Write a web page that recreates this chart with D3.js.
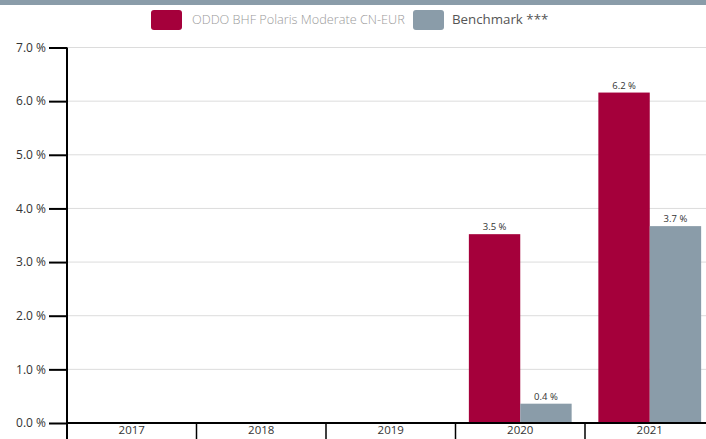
<!DOCTYPE html>
<html>
<head>
<meta charset="utf-8">
<script src="https://cdn.jsdelivr.net/npm/d3@7"></script>
<style>
  body { margin: 0; background: #fff; }
  svg { display: block; font-family: "Open Sans", sans-serif; }
</style>
</head>
<body>
<svg width="706" height="439"></svg>
<script>
const years = ['2017', '2018', '2019', '2020', '2021'];
const seriesNames = ['ODDO BHF Polaris Moderate CN-EUR', 'Benchmark ***'];
const fundValues = [null, null, null, 3.52, 6.16];
const benchValues = [null, null, null, 0.36, 3.67];
const yTicks = [0, 1, 2, 3, 4, 5, 6, 7];

const colors = ['#a5003b', '#8a9ca9'];

const svg = d3.select('svg');
const plotLeft = 67;
const plotTop = 47.5;
const plotBottom = 423;

const x = d3.scaleBand().domain(years).range([plotLeft, plotLeft + 5 * 129.5]).paddingInner(0).paddingOuter(0);
const sub = d3.scaleBand().domain([0, 1]).range([0, x.bandwidth()]).paddingOuter(0.26).paddingInner(0);
const y = d3.scaleLinear().domain([0, 7]).range([plotBottom, plotTop]);

// top strip
svg.append('rect').attr('x', 0).attr('y', 0).attr('width', 706).attr('height', 5).style('fill', '#8a9ca9');

// gridlines
svg.append('g')
  .selectAll('line')
  .data(yTicks)
  .enter()
  .append('line')
  .attr('x1', plotLeft)
  .attr('x2', 706)
  .attr('y1', d => y(d))
  .attr('y2', d => y(d))
  .style('stroke', '#dcdcdc')
  .style('stroke-width', '1px');

// bars
const rows = years.map((yr, i) => [fundValues[i], benchValues[i]]);
const groups = svg.append('g')
  .selectAll('g')
  .data(rows)
  .enter()
  .append('g')
  .attr('transform', (d, i) => `translate(${x(years[i])},0)`);

groups.selectAll('rect')
  .data(d => d.map((v, k) => ({ v, k })).filter(p => p.v !== null))
  .enter()
  .append('rect')
  .attr('x', p => sub(p.k))
  .attr('width', sub.bandwidth())
  .attr('y', p => y(p.v))
  .attr('height', p => y(0) - y(p.v))
  .style('fill', p => colors[p.k]);

groups.selectAll('text')
  .data(d => d.map((v, k) => ({ v, k })).filter(p => p.v !== null))
  .enter()
  .append('text')
  .attr('x', p => sub(p.k) + sub.bandwidth() / 2)
  .attr('y', p => y(p.v) - 4)
  .attr('text-anchor', 'middle')
  .style('font-size', '9.5px')
  .style('fill', '#333')
  .text(p => `${p.v.toFixed(1)} %`);

// y axis
const yAxis = svg.append('g')
  .attr('transform', `translate(${plotLeft},0)`)
  .call(d3.axisLeft(y).tickValues(yTicks).tickSize(18).tickPadding(3).tickFormat(d => `${d.toFixed(1)} %`));
yAxis.select('.domain').attr('d', `M0,${plotTop}V439`).style('stroke', '#000').style('stroke-width', '2px');
yAxis.selectAll('.tick line').style('stroke', '#000').style('stroke-width', '2px');
yAxis.selectAll('.tick text').style('font-size', '12px').style('fill', '#333').style('font-family', '"Open Sans", sans-serif');

// x axis
const xAxis = svg.append('g')
  .attr('transform', `translate(0,${plotBottom})`)
  .call(d3.axisBottom(x).tickSize(0).tickPadding(3));
xAxis.select('.domain').attr('d', `M${plotLeft},0H706`).style('stroke', '#000').style('stroke-width', '2px');
xAxis.selectAll('.tick text').style('font-size', '11.5px').style('fill', '#333').style('font-family', '"Open Sans", sans-serif');

svg.append('g')
  .selectAll('line')
  .data(years.slice(1))
  .enter()
  .append('line')
  .attr('x1', d => x(d))
  .attr('x2', d => x(d))
  .attr('y1', plotBottom)
  .attr('y2', 439)
  .style('stroke', '#000')
  .style('stroke-width', '1.5px');

// legend
const legendX = [151, 413];
const legendText = [192, 452];
const legend = svg.append('g');
seriesNames.forEach((name, i) => {
  legend.append('rect')
    .attr('x', legendX[i]).attr('y', 10).attr('width', 31).attr('height', 20)
    .attr('rx', 3)
    .style('fill', colors[i]);
  legend.append('text')
    .attr('x', legendText[i]).attr('y', 24)
    .style('font-size', i === 0 ? '12.7px' : '13.3px')
    .style('font-weight', i === 0 ? 300 : 400)
    .style('fill', i === 0 ? '#9a9a9a' : '#555')
    .text(name);
});
</script>
</body>
</html>
